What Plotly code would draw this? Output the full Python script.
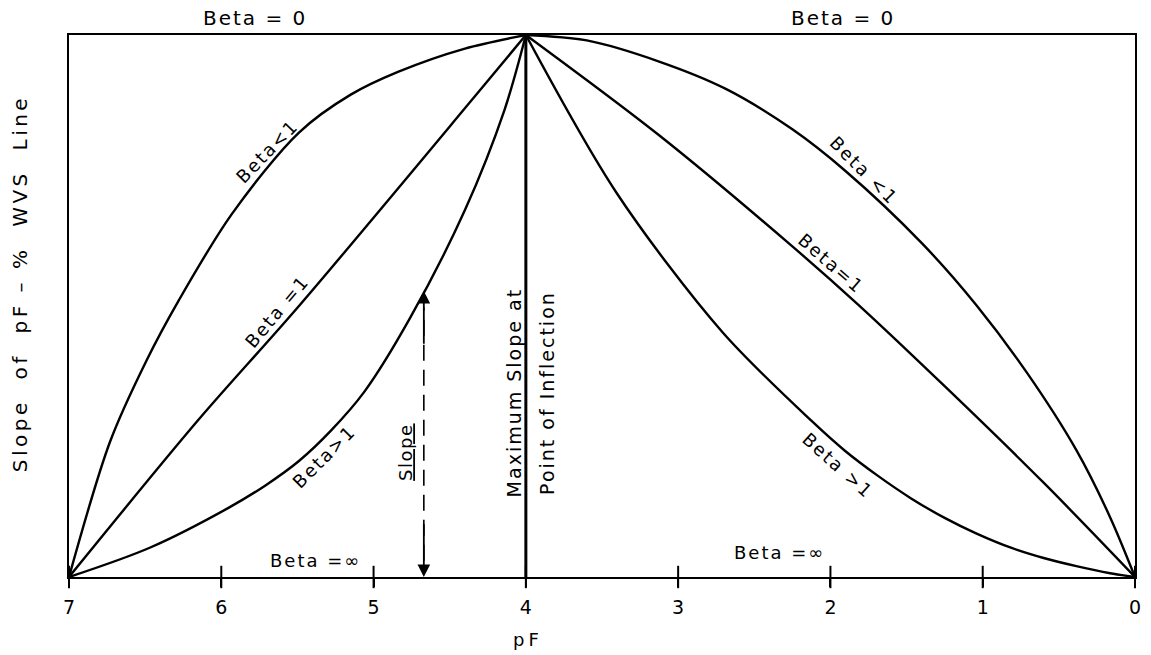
import numpy as np
import plotly.graph_objects as go

# pF axis (reversed, 7 on the left down to 0 on the right)
pf_ticks = [7, 6, 5, 4, 3, 2, 1, 0]
pf_peak = 4.0  # point of inflection

# Relative slope of the pF - % WVS line for each Beta family
beta_lt1_pf = [7, 6.73, 6.49, 6.28, 5.93, 5.49, 5.15, 4.84, 4.40, 4.0,
               3.60, 3.125, 2.69, 2.25, 1.905, 1.40, 1.04, 0.71, 0.385, 0.163, 0]
beta_lt1_y = [0, 0.25, 0.40, 0.51, 0.67, 0.82, 0.89, 0.932, 0.975, 1.0,
              0.99, 0.951, 0.901, 0.826, 0.75, 0.616, 0.501, 0.377, 0.234, 0.11, 0]

beta_eq1_pf = [7, 6.15, 5.49, 4.34, 4.0, 3.125, 2.25, 1.82, 1.25, 0.6, 0]
beta_eq1_y = [0, 0.29, 0.50, 0.885, 1.0, 0.815, 0.61, 0.503, 0.352, 0.174, 0]

beta_gt1_pf = [7, 6.47, 5.95, 5.71, 5.49, 5.28, 5.06, 4.76, 4.40, 4.14, 4.0,
               3.405, 2.71, 2.12, 1.905, 1.69, 1.47, 1.25, 1.04,
               0.815, 0.60, 0.385, 0.163, 0]
beta_gt1_y = [0, 0.054, 0.128, 0.169, 0.214, 0.27, 0.342, 0.478, 0.677, 0.862, 1.0,
              0.709, 0.452, 0.287, 0.233, 0.187, 0.145, 0.109, 0.080,
              0.054, 0.035, 0.020, 0.007, 0]

slope_pf = 4.67  # where the example slope is measured

FONT = "DejaVu Sans"
INK = "black"

series = {
    "lt1": (beta_lt1_pf, beta_lt1_y),
    "eq1": (beta_eq1_pf, beta_eq1_y),
    "gt1": (beta_gt1_pf, beta_gt1_y),
}

fig = go.Figure()


def spaced(text, px):
    return f'<span style="letter-spacing:{px}px">{text}</span>'


def curve_y(key, pf_val):
    pf = np.asarray(series[key][0], float)
    y = np.asarray(series[key][1], float)
    return float(np.interp(pf_val, pf[::-1], y[::-1]))


def add_branches(pf, y, width=2.4):
    pf = np.asarray(pf, float)
    y = np.asarray(y, float)
    for m in (pf >= pf_peak, pf <= pf_peak):
        fig.add_trace(go.Scatter(
            x=pf[m], y=y[m], mode="lines",
            line=dict(color=INK, width=width, shape="spline", smoothing=0.9),
            hoverinfo="skip", showlegend=False, cliponaxis=False))


for pf, y in series.values():
    add_branches(pf, y)

# Vertical line at the point of inflection
fig.add_trace(go.Scatter(
    x=[pf_peak, pf_peak], y=[0, 1], mode="lines",
    line=dict(color=INK, width=3), hoverinfo="skip", showlegend=False))

# Dashed "Slope" measure under the Beta>1 curve
slope_y = curve_y("gt1", slope_pf)
fig.add_trace(go.Scatter(
    x=[slope_pf, slope_pf], y=[0.03, slope_y - 0.03], mode="lines",
    line=dict(color=INK, width=1.6, dash="16px,9px"),
    hoverinfo="skip", showlegend=False))
for tip, tail in ((slope_y, slope_y - 0.1), (0.0, 0.1)):
    fig.add_annotation(x=slope_pf, y=tip, ax=slope_pf, ay=tail,
                       xref="x", yref="y", axref="x", ayref="y",
                       showarrow=True, arrowhead=2, arrowsize=1.4,
                       arrowwidth=1.8, arrowcolor=INK, text="")

# Tick marks crossing the baseline
fig.add_trace(go.Scatter(
    x=pf_ticks, y=[0] * len(pf_ticks), mode="markers",
    marker=dict(symbol="line-ns", size=16, line=dict(color=INK, width=2)),
    hoverinfo="skip", showlegend=False, cliponaxis=False))

# Labels above the frame
for x in (5.78, 1.92):
    fig.add_annotation(x=x, y=1.031, xref="x", yref="paper",
                       text=spaced("Beta = 0", 2), showarrow=False,
                       xanchor="center", yanchor="middle",
                       font=dict(family=FONT, size=20, color=INK))

# Curve labels, set just off each curve and turned along it
# (positive gap: above the curve, negative: below it)
curve_labels = [
    ("Beta<1", "lt1", 5.64, -46, 13),
    ("Beta =1", "eq1", 5.57, -50, 13),
    ("Beta>1", "gt1", 5.39, -45, -14),
    ("Beta <1", "lt1", 1.84, 45, 13),
    ("Beta=1", "eq1", 2.05, 41, 13),
    ("Beta >1", "gt1", 1.88, 42, -16),
]
for text, key, pf_val, ang, gap in curve_labels:
    a = np.radians(ang)
    fig.add_annotation(x=pf_val, y=curve_y(key, pf_val), xref="x", yref="y",
                       text=spaced(text, 2), textangle=ang, showarrow=False,
                       xshift=gap * np.sin(a), yshift=gap * np.cos(a),
                       font=dict(family=FONT, size=18, color=INK))

for x, y in ((5.38, 0.031), (2.335, 0.046)):
    fig.add_annotation(x=x, y=y, xref="x", yref="y", text=spaced("Beta =∞", 2),
                       showarrow=False, font=dict(family=FONT, size=18, color=INK))

fig.add_annotation(x=4.79, y=0.23, xref="x", yref="y",
                   text=spaced("<u>Slope</u>", 1.5), textangle=-90,
                   showarrow=False, font=dict(family=FONT, size=18, color=INK))
for text, x in (("Maximum Slope at", 4.08), ("Point of Inflection", 3.86)):
    fig.add_annotation(x=x, y=0.34, xref="x", yref="y",
                       text=spaced(text, 2), textangle=-90, showarrow=False,
                       font=dict(family=FONT, size=19, color=INK))

# Axis titles
fig.add_annotation(x=-0.046, y=0.542, xref="paper", yref="paper",
                   text=spaced("Slope  of  pF – %  WVS  Line", 3.5), textangle=-90,
                   xanchor="center", yanchor="middle", showarrow=False,
                   font=dict(family=FONT, size=20, color=INK))
fig.add_annotation(x=0.431, y=-0.116, xref="paper", yref="paper",
                   text=spaced("pF", 4), showarrow=False,
                   xanchor="center", yanchor="middle",
                   font=dict(family=FONT, size=18, color=INK))

fig.update_xaxes(range=[7, 0], tickvals=pf_ticks, ticktext=[str(t) for t in pf_ticks],
                 ticks="outside", ticklen=8, tickwidth=2, tickcolor=INK,
                 ticklabelstandoff=4,
                 showline=True, linecolor=INK, linewidth=2, mirror=True,
                 showgrid=False, zeroline=False,
                 tickfont=dict(family=FONT, size=19, color=INK))
fig.update_yaxes(range=[0, 1], showticklabels=False, ticks="",
                 showline=True, linecolor=INK, linewidth=2, mirror=True,
                 showgrid=False, zeroline=False)

fig.update_layout(
    width=1151, height=655,
    margin=dict(l=69, r=10, t=35, b=78),
    paper_bgcolor="white", plot_bgcolor="white",
    showlegend=False,
)

fig.write_html("out.html")
